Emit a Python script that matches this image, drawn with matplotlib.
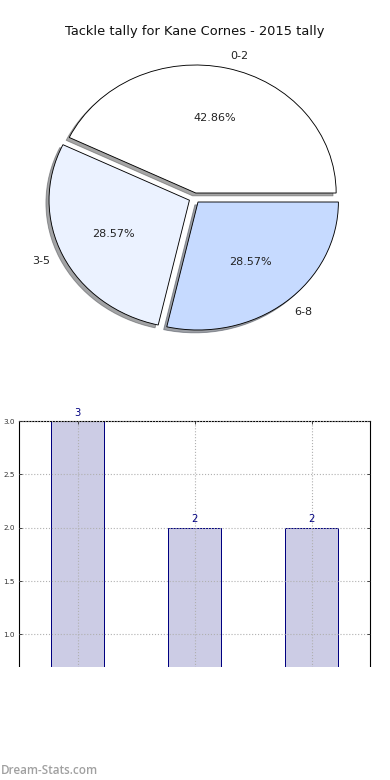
import matplotlib
matplotlib.use('Agg')
import matplotlib.pyplot as plt
from matplotlib.patches import Rectangle

# ── Data ──
labels = ['0-2', '3-5', '6-8']
tallies = [3, 2, 2]
pie_colors = ['#ffffff', '#ebf2ff', '#c6daff']
explode = [0.04, 0.04, 0.04]
title = 'Tackle tally for Kane Cornes - 2015 tally'
watermark = 'Dream-Stats.com'

W, H, DPI = 390, 780, 80
fig = plt.figure(figsize=(W / DPI, H / DPI), dpi=DPI, facecolor='white')

# ── Pie ──
ax1 = fig.add_axes([19 / W, 1 - 358 / H, 351 / W, 320 / H])
ax1.pie(tallies, labels=labels, colors=pie_colors, explode=explode,
        autopct='%.2f%%', shadow=True, startangle=0,
        wedgeprops={'edgecolor': 'black', 'linewidth': 0.8},
        textprops={'fontsize': 10, 'color': '#222222'})
ax1.set_aspect('auto')
ax1.set_xlim(-1.25, 1.25); ax1.set_ylim(-1.25, 1.25)
ax1.set_title(title, fontsize=11.7, color='#111111', pad=3)

# ── Bars ──
ax2 = fig.add_axes([19 / W, 1 - 741 / H, 351 / W, 320 / H])
x = list(range(len(tallies)))
ax2.bar(x, tallies, 0.45, color='navy', alpha=0.2, zorder=1)
ax2.bar(x, tallies, 0.45, fill=False, edgecolor='navy', linewidth=0.9, zorder=2)
for xi, v in zip(x, tallies):
    ax2.text(xi, v + 0.03, str(v), ha='center', va='bottom', color='navy', fontsize=9)
ax2.set_xlim(-0.5, 2.5); ax2.set_ylim(0, 3)
ax2.set_xticks(x); ax2.set_xticklabels([])
ax2.set_yticks([0.0, 0.5, 1.0, 1.5, 2.0, 2.5, 3.0])
ax2.tick_params(direction='in', length=3, labelsize=6.5, colors='#333333',
                right=True, top=True, left=True, bottom=True)
ax2.grid(True, linestyle=':', color='#b0b0b0', linewidth=1.0, zorder=3)
ax2.set_axisbelow(False)
for s in ax2.spines.values():
    s.set_linewidth(1.0)

# white band over the lower part, with the site name
fig.add_artist(Rectangle((0, 0), 1, 1 - 667 / H, transform=fig.transFigure,
                         facecolor='white', edgecolor='none', zorder=10))
fig.text(1 / W, 1 - 770 / H, watermark, fontsize=10.5, color='#a0a0a0',
         family='Open Sans', weight='semibold', va='center', zorder=11)

fig.savefig('out.png', dpi=DPI, facecolor='white')
